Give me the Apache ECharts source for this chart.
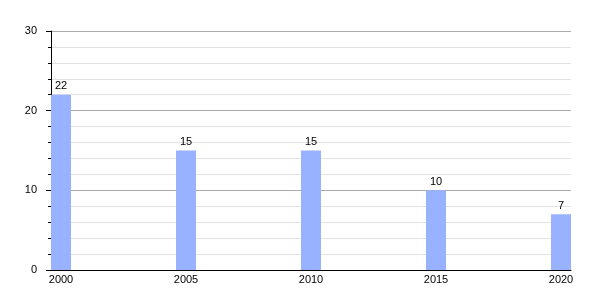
<!DOCTYPE html>
<html><head><meta charset="utf-8">
<script src="https://cdn.jsdelivr.net/npm/echarts@6/dist/echarts.min.js"></script>
<style>html,body{margin:0;padding:0;background:#fff}#c{width:600px;height:300px}</style>
</head><body><div id="c"></div>
<script>
const years = [2000, 2005, 2010, 2015, 2020];
const values = [22, 15, 15, 10, 7];
const yTicks = [0, 10, 20, 30];

const chart = echarts.init(document.getElementById('c'), null, {renderer: 'canvas'});
chart.setOption({
  animation: false,
  textStyle: {fontFamily: 'Liberation Sans, Arial, sans-serif'},
  grid: {left: 51, right: 29, top: 31, bottom: 30, containLabel: false},
  xAxis: {
    type: 'value', min: 1999.6, max: 2020.4,
    axisLine: {show: true, onZero: false, lineStyle: {color: '#000', width: 1}},
    axisTick: {show: false},
    splitLine: {show: false},
    axisLabel: {customValues: years, color: '#000', fontSize: 11, margin: 4, formatter: v => String(v)}
  },
  yAxis: {
    type: 'value', min: yTicks[0], max: yTicks[yTicks.length - 1], interval: 10,
    axisLine: {show: true, lineStyle: {color: '#000', width: 1}},
    axisTick: {show: true, length: 5, lineStyle: {color: '#000'}},
    minorTick: {show: true, splitNumber: 5, length: 3, lineStyle: {color: '#000'}},
    splitLine: {show: true, lineStyle: {color: '#aaaaaa', width: 1}},
    minorSplitLine: {show: true, lineStyle: {color: '#e2e2e2', width: 1}},
    axisLabel: {color: '#000', fontSize: 11, margin: 14}
  },
  series: [{
    type: 'bar',
    data: years.map((y, i) => [y, values[i]]),
    barWidth: 20,
    itemStyle: {color: '#99b2ff'},
    label: {show: true, position: 'top', color: '#000', fontSize: 11, distance: 3}
  }]
});
</script></body></html>
